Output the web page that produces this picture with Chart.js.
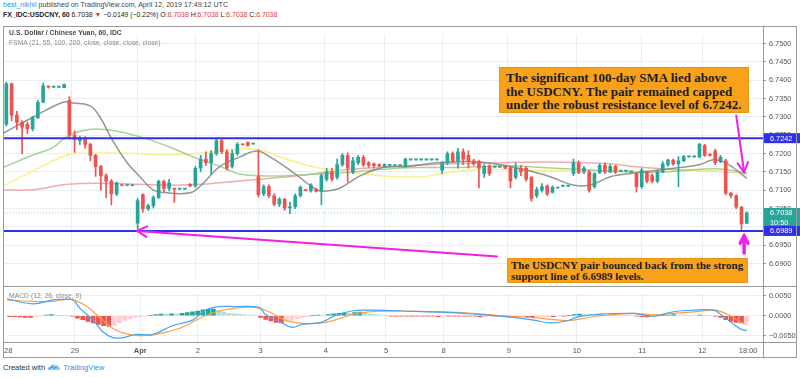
<!DOCTYPE html>
<html>
<head>
<meta charset="utf-8">
<script src="https://cdn.jsdelivr.net/npm/chart.js@4.4.1/dist/chart.umd.min.js"></script>
<style>
  html, body { margin: 0; padding: 0; background: #fff; }
  #wrap { position: relative; width: 800px; height: 378px; overflow: hidden; font-family: "Liberation Sans", Arial, sans-serif; }
  .abs { position: absolute; }
  .line { position: absolute; background: #9a9a9a; }
  #hdr1 { left: 3px; top: 1px; font-size: 7.1px; color: #444; white-space: nowrap; }
  #hdr2 { left: 3px; top: 11px; font-size: 6.9px; color: #222; white-space: nowrap; font-weight: bold; }
  #hdr2 .r { color: #e53935; }
  .leg { left: 9px; font-size: 6.9px; white-space: nowrap; }
  .note { background: #f8a21c; border: 1px solid #ec9414; color: #1c1c1c; font-family: "Liberation Serif", "Times New Roman", serif; font-weight: bold; white-space: nowrap; box-sizing: border-box; }
  #c1 { left: 0; top: 27px; }
  #c2 { left: 0; top: 287px; }
</style>
</head>
<body>
<div id="wrap">
  <div id="hdr1" class="abs"><span style="color:#2196f3">best_nikhil</span> published on TradingView.com, April 12, 2019 17:49:12 UTC</div>
  <div id="hdr2" class="abs">FX_IDC:USDCNY, 60 <span style="font-weight:normal">6.7038 <span class="r">&#9660;</span> &minus;0.0149 (&minus;0.22%) O:<span class="r">6.7038</span> H:<span class="r">6.7038</span> L:<span class="r">6.7038</span> C:<span class="r">6.7038</span></span></div>

  <canvas id="c1" class="abs" width="800" height="259"></canvas>
  <canvas id="c2" class="abs" width="800" height="71"></canvas>

  <div class="line" style="left:3px;top:26px;width:794px;height:1px"></div>
  <div class="line" style="left:3px;top:26px;width:1px;height:332px"></div>
  <div class="line" style="left:796px;top:26px;width:1px;height:332px"></div>
  <div class="line" style="left:763px;top:26px;width:1px;height:332px"></div>
  <div class="line" style="left:3px;top:286px;width:794px;height:1px"></div>
  <div class="line" style="left:3px;top:342px;width:794px;height:1px"></div>
  <div class="line" style="left:3px;top:357px;width:794px;height:1px"></div>

  <div class="abs leg" style="top:29px;color:#4a4a4a;font-weight:bold">U.S. Dollar / Chinese Yuan, 60, IDC</div>
  <div class="abs leg" style="top:39px;color:#8a8a8a;font-size:6.75px">FSMA (21, 55, 100, 200, close, close, close, close)</div>
  <div class="abs leg" style="top:292px;color:#8a8a8a;font-size:6.8px">MACD (12, 26, close, 9)</div>

  <div class="abs note" style="left:499px;top:67px;width:250px;height:46px;font-size:13px;line-height:13.5px;padding:3px 0 0 6px">The significant 100-day SMA lied above<br>the USDCNY. The pair remained capped<br>under the robust resistance level of 6.7242.</div>
  <div class="abs note" style="left:507px;top:258px;width:241px;height:25px;font-size:11px;line-height:10.5px;padding:1px 0 0 3px">The USDCNY pair bounced back from the strong<br>support line of 6.6989 levels.</div>

  <div class="abs" style="left:3px;top:363px;font-size:7.5px;color:#333;white-space:nowrap">Created with
    <svg width="14" height="8" viewBox="0 0 14 8" style="vertical-align:-1px"><path d="M2 7 Q0 7 0.5 5 Q1 3.5 3 4 Q3.5 1 6.5 1.5 Q9 1.5 9.5 3.5 Q12.5 3 13 5.5 Q13.5 7 11.5 7 Z" fill="#8ecbf5"/><path d="M2 6 L5 3.5 L7.5 5.5 L11 2.5" stroke="#1e88e5" stroke-width="1" fill="none"/></svg>
    <span style="color:#2196f3">TradingView</span></div>
</div>

<script>
// hourly axis: 0 = start of Mar 28 (UTC), weekend skipped
const startHour = -1;
const barStep = 2;

const opens = [
  6.7280,6.7390,6.7305,6.7285,6.7280,6.7268,6.7298,6.7340,6.7382,6.7381,
  6.7381,6.7380,6.7345,6.7250,6.7235,6.7242,6.7225,6.7195,6.7165,6.7140,
  6.7125,6.7090,6.7114,6.7113,6.7113,6.7010,6.7088,6.7049,6.7058,6.7080,
  6.7124,6.7105,6.7104,6.7103,6.7103,6.7116,6.7112,6.7160,6.7185,6.7175,
  6.7200,6.7235,6.7205,6.7165,6.7200,6.7225,6.7230,6.7226,6.7137,6.7090,
  6.7110,6.7085,6.7062,6.7075,6.7052,6.7055,6.7085,6.7100,6.7098,6.7103,
  6.7097,6.7130,6.7150,6.7135,6.7170,6.7195,6.7150,6.7175,6.7190,6.7175,
  6.7172,6.7170,6.7165,6.7168,6.7167,6.7167,6.7165,6.7183,6.7183,6.7183,
  6.7183,6.7183,6.7183,6.7155,6.7175,6.7200,6.7180,6.7205,6.7195,6.7180,
  6.7178,6.7145,6.7165,6.7163,6.7163,6.7165,6.7162,6.7135,6.7160,6.7160,
  6.7135,6.7085,6.7100,6.7112,6.7095,6.7106,6.7111,6.7111,6.7145,6.7175,
  6.7150,6.7150,6.7110,6.7148,6.7168,6.7150,6.7165,6.7152,6.7152,6.7150,
  6.7145,6.7110,6.7150,6.7140,6.7125,6.7150,6.7170,6.7182,6.7172,6.7180,
  6.7191,6.7191,6.7191,6.7222,6.7196,6.7207,6.7178,6.7180,6.7092,6.7085,
  6.7054,6.7010
];
const highs = [
  6.7395,6.7392,6.7315,6.7290,6.7285,6.7302,6.7345,6.7392,6.7385,6.7382,
  6.7382,6.7390,6.7355,6.7262,6.7248,6.7246,6.7228,6.7198,6.7168,6.7145,
  6.7130,6.7122,6.7115,6.7114,6.7114,6.7078,6.7090,6.7062,6.7085,6.7128,
  6.7128,6.7130,6.7105,6.7104,6.7104,6.7118,6.7165,6.7195,6.7205,6.7208,
  6.7242,6.7240,6.7210,6.7210,6.7230,6.7226,6.7232,6.7227,6.7210,6.7115,
  6.7115,6.7090,6.7080,6.7078,6.7068,6.7090,6.7112,6.7101,6.7118,6.7105,
  6.7145,6.7160,6.7160,6.7185,6.7200,6.7202,6.7190,6.7195,6.7195,6.7178,
  6.7175,6.7172,6.7172,6.7169,6.7168,6.7168,6.7188,6.7184,6.7184,6.7184,
  6.7184,6.7184,6.7184,6.7178,6.7205,6.7205,6.7214,6.7213,6.7208,6.7185,
  6.7182,6.7170,6.7170,6.7164,6.7164,6.7166,6.7165,6.7175,6.7168,6.7165,
  6.7138,6.7108,6.7118,6.7115,6.7112,6.7107,6.7112,6.7112,6.7185,6.7180,
  6.7165,6.7155,6.7148,6.7172,6.7175,6.7170,6.7168,6.7153,6.7153,6.7151,
  6.7148,6.7160,6.7152,6.7145,6.7155,6.7178,6.7185,6.7185,6.7192,6.7195,
  6.7192,6.7192,6.7228,6.7225,6.7200,6.7212,6.7195,6.7185,6.7095,6.7088,
  6.7056,6.7042
];
const lows = [
  6.7275,6.7290,6.7265,6.7200,6.7255,6.7262,6.7295,6.7338,6.7378,6.7380,
  6.7380,6.7379,6.7240,6.7203,6.7225,6.7215,6.7180,6.7138,6.7100,6.7080,
  6.7060,6.7085,6.7112,6.7112,6.7112,6.6989,6.7040,6.7045,6.7052,6.7078,
  6.7095,6.7098,6.7067,6.7102,6.7102,6.7110,6.7108,6.7150,6.7168,6.7144,
  6.7195,6.7200,6.7155,6.7160,6.7195,6.7223,6.7220,6.7225,6.7082,6.7085,
  6.7080,6.7058,6.7055,6.7045,6.7036,6.7050,6.7082,6.7098,6.7095,6.7095,
  6.7060,6.7125,6.7125,6.7130,6.7165,6.7123,6.7145,6.7170,6.7165,6.7162,
  6.7160,6.7164,6.7163,6.7167,6.7166,6.7166,6.7163,6.7182,6.7182,6.7182,
  6.7182,6.7182,6.7182,6.7145,6.7170,6.7175,6.7160,6.7170,6.7160,6.7168,
  6.7106,6.7135,6.7140,6.7162,6.7162,6.7158,6.7106,6.7130,6.7140,6.7125,
  6.7070,6.7080,6.7095,6.7085,6.7092,6.7105,6.7110,6.7110,6.7140,6.7145,
  6.7145,6.7095,6.7105,6.7145,6.7145,6.7148,6.7145,6.7151,6.7151,6.7149,
  6.7095,6.7105,6.7120,6.7120,6.7120,6.7148,6.7165,6.7168,6.7110,6.7178,
  6.7190,6.7190,6.7188,6.7192,6.7193,6.7170,6.7175,6.7088,6.7080,6.7050,
  6.6989,6.7008
];
const closes = [
  6.7390,6.7305,6.7285,6.7272,6.7268,6.7298,6.7340,6.7385,6.7381,6.7381,
  6.7381,6.7388,6.7250,6.7238,6.7242,6.7225,6.7195,6.7165,6.7140,6.7125,
  6.7090,6.7120,6.7113,6.7113,6.7113,6.7072,6.7049,6.7058,6.7080,6.7124,
  6.7105,6.7120,6.7103,6.7103,6.7103,6.7112,6.7160,6.7185,6.7175,6.7200,
  6.7235,6.7205,6.7160,6.7200,6.7225,6.7224,6.7222,6.7226,6.7088,6.7110,
  6.7085,6.7062,6.7075,6.7052,6.7055,6.7085,6.7108,6.7099,6.7115,6.7097,
  6.7140,6.7150,6.7130,6.7170,6.7195,6.7160,6.7180,6.7190,6.7170,6.7168,
  6.7167,6.7166,6.7170,6.7168,6.7167,6.7167,6.7185,6.7183,6.7183,6.7183,
  6.7183,6.7183,6.7183,6.7175,6.7200,6.7180,6.7205,6.7185,6.7178,6.7172,
  6.7160,6.7165,6.7145,6.7163,6.7163,6.7160,6.7125,6.7160,6.7150,6.7130,
  6.7078,6.7102,6.7110,6.7090,6.7108,6.7106,6.7111,6.7111,6.7175,6.7148,
  6.7160,6.7100,6.7145,6.7168,6.7150,6.7165,6.7150,6.7152,6.7152,6.7150,
  6.7110,6.7155,6.7125,6.7125,6.7150,6.7172,6.7182,6.7172,6.7180,6.7192,
  6.7191,6.7191,6.7225,6.7195,6.7195,6.7175,6.7190,6.7092,6.7085,6.7054,
  6.7008,6.7038
];

// moving averages, [hour, value]
const sma21 = [[-2.3,6.7255],[9.1,6.7299],[20.6,6.7340],[24.4,6.7338],[30.9,6.7330],[34.7,6.7299],[39.6,6.7234],[45,6.7175],[49.9,6.7137],[54.9,6.7101],[60.2,6.7093],[69,6.7093],[72.8,6.7111],[80.4,6.7165],[88,6.7191],[94.5,6.7207],[99.4,6.7191],[108.2,6.7149],[117.3,6.7101],[121.1,6.7098],[126.1,6.7106],[133.7,6.7139],[142.5,6.7162],[151.6,6.7165],[163,6.7175],[170.7,6.7178],[178.3,6.7178],[187,6.7170],[195.8,6.7157],[206.1,6.7137],[214.9,6.7114],[221.3,6.7114],[229,6.7137],[232.8,6.7142],[244.2,6.7152],[255.6,6.7162],[263.2,6.7170],[268.2,6.7183],[272,6.7178],[275.8,6.7162],[281.1,6.7132]];
const sma55 = [[-2.3,6.7162],[9.1,6.7196],[16.8,6.7217],[22.1,6.7247],[29.7,6.7265],[37.3,6.7265],[45,6.7255],[52.6,6.7240],[62.5,6.7214],[70.1,6.7191],[80.4,6.7165],[88,6.7144],[98.3,6.7139],[104.4,6.7139],[117.3,6.7144],[129.9,6.7149],[142.5,6.7157],[155.4,6.7162],[168,6.7162],[180.6,6.7165],[190.9,6.7167],[203.4,6.7162],[216.4,6.7157],[229,6.7152],[237.7,6.7149],[250.7,6.7150],[263.2,6.7157],[270.9,6.7158],[281.1,6.7147]];
const sma100 = [[-2.3,6.7111],[9.1,6.7152],[22.1,6.7196],[28.2,6.7201],[47.2,6.7201],[60.2,6.7196],[72.8,6.7201],[85.3,6.7211],[95.2,6.7211],[104.4,6.7188],[117.3,6.7162],[129.9,6.7149],[142.5,6.7139],[157.7,6.7137],[168,6.7149],[180.6,6.7157],[195.8,6.7155],[216.4,6.7152],[229,6.7152],[250.7,6.7152],[263.2,6.7154],[281.1,6.7149]];
const sma200 = [[-2.3,6.7101],[9.1,6.7101],[22.1,6.7116],[34.7,6.7119],[60.2,6.7114],[72.8,6.7116],[91.8,6.7128],[110.9,6.7140],[129.9,6.7157],[149,6.7165],[168,6.7172],[187,6.7175],[206.1,6.7177],[229,6.7172],[237.7,6.7165],[250.7,6.7157],[263.2,6.7154],[281.1,6.7147]];

// MACD panel
const macdLine = [[-2.3,0.0043],[8,0.0030],[15.6,0.0040],[19.4,0.0041],[23.2,0.0040],[25.9,0.0019],[30.9,-0.0011],[34.7,-0.0040],[38.5,-0.0055],[42.3,-0.0055],[47.2,-0.0047],[53.7,-0.0047],[61.3,-0.0025],[69,-0.0011],[73.9,0.0014],[79.2,0.0023],[85.3,0.0023],[94.5,0.0021],[96.8,0.0004],[102.1,-0.0014],[107,-0.0029],[110.9,-0.0022],[118.5,-0.0016],[123.4,0.0000],[129.9,0.0012],[136.4,0.0014],[149,0.0012],[164.2,0.0009],[174.5,0.0005],[187,-0.0001],[199.6,-0.0011],[206.1,-0.0018],[212.6,-0.0012],[216.4,-0.0003],[225.1,0.0004],[237.7,0.0006],[245.3,-0.0001],[253,0.0010],[260.6,0.0014],[268.2,0.0014],[270.9,0.0004],[274.7,-0.0015],[278.5,-0.0033],[281.1,-0.0037]];
const signalLine = [[-2.3,0.0040],[8,0.0036],[15.6,0.0036],[22.1,0.0041],[28.2,0.0025],[34.7,-0.0011],[39.6,-0.0036],[45,-0.0047],[49.9,-0.0050],[56.4,-0.0045],[65.1,-0.0029],[72.8,-0.0003],[79.2,0.0012],[85.3,0.0019],[93,0.0021],[98.3,0.0010],[104.4,-0.0011],[110.9,-0.0019],[118.5,-0.0018],[123.4,-0.0011],[129.9,0.0003],[136.4,0.0010],[149,0.0012],[164.2,0.0010],[174.5,0.0007],[187,0.0000],[199.6,-0.0005],[206.1,-0.0009],[212.6,-0.0012],[216.4,-0.0009],[225.1,0.0000],[237.7,0.0006],[245.3,0.0002],[253,0.0006],[260.6,0.0010],[268.2,0.0014],[270.9,0.0011],[274.7,0.0000],[278.5,-0.0015],[281.1,-0.0022]];
const macdHist = [
  -0.0002,-0.0002,-0.0003,-0.0004,-0.0004,-0.0002,-0.0001,0.0002,0.0003,0.0002,
  0.0001,0.0001,-0.0001,-0.0006,-0.0010,-0.0014,-0.0018,-0.0022,-0.0025,-0.0026,
  -0.0024,-0.0018,-0.0012,-0.0008,-0.0004,-0.0003,-0.0001,0.0001,0.0003,0.0004,
  0.0004,0.0005,0.0005,0.0006,0.0008,0.0010,0.0012,0.0015,0.0016,0.0017,
  0.0013,0.0009,0.0006,0.0005,0.0004,0.0003,0.0002,0.0001,-0.0004,-0.0009,
  -0.0013,-0.0017,-0.0018,-0.0014,-0.0011,-0.0007,-0.0004,-0.0002,0.0001,0.0002,
  0.0002,0.0003,0.0005,0.0006,0.0007,0.0007,0.0008,0.0009,0.0006,0.0004,
  0.0003,0.0002,0.0001,-0.0001,-0.0001,-0.0001,-0.0001,-0.0001,-0.0001,-0.0001,
  -0.0001,-0.0001,-0.0002,-0.0001,-0.0001,-0.0001,-0.0001,-0.0001,-0.0001,-0.0001,
  -0.0003,-0.0002,-0.0001,-0.0001,-0.0001,-0.0001,-0.0002,-0.0003,-0.0002,-0.0003,
  -0.0005,-0.0004,-0.0003,-0.0002,-0.0002,-0.0001,-0.0001,0.0001,0.0003,0.0004,
  0.0003,0.0002,0.0002,0.0003,0.0002,0.0002,0.0001,0.0001,0.0001,0.0001,
  -0.0001,-0.0002,-0.0003,-0.0002,-0.0001,0.0001,0.0002,0.0003,0.0002,0.0002,
  0.0001,0.0001,0.0002,0.0001,0.0000,-0.0001,-0.0004,-0.0010,-0.0014,-0.0017,
  -0.0018,-0.0016
];

// levels and axis ticks
const resistance = 6.7242;
const support = 6.6989;
const lastPrice = 6.7038;
const priceTicks = [6.6900,6.6950,6.7000,6.7050,6.7100,6.7150,6.7200,6.7250,6.7300,6.7350,6.7400,6.7450,6.7500];
const macdTicks = [-0.005, 0, 0.005];
const tickHours = [-1.5, 24, 49, 71, 95, 120, 143, 165, 190, 216, 241, 264, 281.5];
const tickLabels = ['28','29','Apr','2','3','4','5','8','9','10','11','12','18:00'];

// arrows drawn on the price panel: [fromHour, fromPrice, toHour, toPrice, width]
const arrows = [
  [185.9, 6.6919, 48.8, 6.6989, 2],
  [277.0, 6.7304, 280.0, 6.7149, 2],
  [280.0, 6.6929, 280.0, 6.6975, 3.5]
];

const X_MIN = -1.9, X_MAX = 287.2;
const UP = '#26a69a', DOWN = '#ef5350', BLUE = '#2f2ff0', MAGENTA = '#f01ee8';
const GRID = '#e8eef2';
const FONT = 'Liberation Sans';

const xOf = i => startHour + i * barStep;
const candleColors = opens.map((o, i) => closes[i] >= o ? UP : DOWN);
const pts = arr => arr.map(p => ({ x: p[0], y: p[1] }));
const hline = v => [{ x: X_MIN, y: v }, { x: X_MAX, y: v }];

const xScale = (showLabels) => ({
  type: 'linear', min: X_MIN, max: X_MAX, offset: false,
  afterBuildTicks: s => { s.ticks = tickHours.map(v => ({ value: v })); },
  afterFit: s => { s.height = showLabels ? 16 : 0; },
  grid: { offset: false, drawTicks: false, color: c => (c.index === 0 || c.index === tickLabels.length - 1) ? 'rgba(0,0,0,0)' : GRID },
  border: { display: false },
  ticks: {
    display: showLabels, autoSkip: false, maxRotation: 0, padding: 4, color: '#555',
    font: c => ({ family: FONT, size: 7.5, weight: c.index === 2 ? 'bold' : 'normal' }),
    callback: (v, i) => tickLabels[i]
  }
});

function arrowHead(ctx, x1, y1, x2, y2, len) {
  const a = Math.atan2(y2 - y1, x2 - x1);
  ctx.beginPath();
  ctx.moveTo(x2 - len * Math.cos(a - 0.5), y2 - len * Math.sin(a - 0.5));
  ctx.lineTo(x2, y2);
  ctx.lineTo(x2 - len * Math.cos(a + 0.5), y2 - len * Math.sin(a + 0.5));
  ctx.stroke();
}

const priceOverlay = {
  id: 'priceOverlay',
  afterDraw(chart) {
    const ctx = chart.ctx, xs = chart.scales.x, ys = chart.scales.y;
    ctx.save();
    ctx.strokeStyle = MAGENTA;
    ctx.lineCap = 'round';
    arrows.forEach(a => {
      const x1 = xs.getPixelForValue(a[0]), y1 = ys.getPixelForValue(a[1]);
      const x2 = xs.getPixelForValue(a[2]), y2 = ys.getPixelForValue(a[3]);
      ctx.lineWidth = a[4];
      ctx.beginPath(); ctx.moveTo(x1, y1); ctx.lineTo(x2, y2); ctx.stroke();
      arrowHead(ctx, x1, y1, x2, y2, a[4] > 2 ? 8 : 11);
    });
    // price labels on the right axis
    const left = chart.chartArea.right + 1;
    const tags = [
      [ys.getPixelForValue(resistance), resistance.toFixed(4), BLUE],
      [ys.getPixelForValue(lastPrice), lastPrice.toFixed(4), UP],
      [ys.getPixelForValue(lastPrice) + 10, '10:50', UP],
      [ys.getPixelForValue(support), support.toFixed(4), BLUE]
    ];
    ctx.font = '7.3px ' + FONT;
    ctx.textBaseline = 'middle';
    tags.forEach(t => {
      ctx.fillStyle = t[2];
      ctx.fillRect(left, t[0] - 5, 800 - left, 10);
      ctx.fillStyle = '#fff';
      ctx.fillText(t[1], left + 6, t[0] + 0.5);
    });
    ctx.restore();
  }
};

new Chart(document.getElementById('c1'), {
  type: 'bar',
  data: {
    datasets: [
      { type: 'line', data: hline(resistance), borderColor: BLUE, borderWidth: 2, pointRadius: 0, order: 1 },
      { type: 'line', data: hline(support), borderColor: BLUE, borderWidth: 2, pointRadius: 0, order: 1 },
      { data: opens.map((o, i) => ({ x: xOf(i), y: [o, closes[i]] })), backgroundColor: candleColors,
        barThickness: 3, minBarLength: 1, grouped: false, order: 2 },
      { data: lows.map((l, i) => ({ x: xOf(i), y: [l, highs[i]] })), backgroundColor: candleColors,
        barThickness: 1, grouped: false, order: 3 },
      { type: 'line', data: pts(sma21), borderColor: 'rgba(130,130,130,0.85)', borderWidth: 1.5, pointRadius: 0, tension: 0.4, order: 5 },
      { type: 'line', data: pts(sma55), borderColor: 'rgba(150,205,140,0.85)', borderWidth: 1.5, pointRadius: 0, tension: 0.4, order: 5 },
      { type: 'line', data: pts(sma100), borderColor: 'rgba(250,240,130,0.95)', borderWidth: 1.5, pointRadius: 0, tension: 0.4, order: 5 },
      { type: 'line', data: pts(sma200), borderColor: 'rgba(240,150,150,0.8)', borderWidth: 1.5, pointRadius: 0, tension: 0.4, order: 5 },
      { type: 'line', data: hline(lastPrice), borderColor: 'rgba(38,166,154,0.5)', borderWidth: 1, borderDash: [1, 2], pointRadius: 0, order: 6 }
    ]
  },
  options: {
    responsive: false, animation: false,
    layout: { padding: { left: 4, right: 0, top: 0, bottom: 0 } },
    plugins: { legend: { display: false }, tooltip: { enabled: false } },
    scales: {
      x: xScale(false),
      y: {
        position: 'right', min: 6.6859, max: 6.7525,
        afterBuildTicks: s => { s.ticks = priceTicks.map(v => ({ value: v })); },
        afterFit: s => { s.width = 37; },
        grid: { color: GRID, tickLength: 3, tickColor: '#999' },
        border: { display: false },
        ticks: { color: '#555', padding: 3, font: { family: FONT, size: 7.3 }, callback: v => v.toFixed(4) }
      }
    }
  },
  plugins: [priceOverlay]
});

const histColors = macdHist.map((v, i) => {
  const prev = i ? macdHist[i - 1] : v;
  if (v >= 0) return v > prev ? UP : '#b2dfdb';
  return v > prev ? '#ffcdd2' : DOWN;
});

new Chart(document.getElementById('c2'), {
  type: 'bar',
  data: {
    datasets: [
      { type: 'line', data: pts(macdLine), borderColor: '#42a5f5', borderWidth: 1.2, pointRadius: 0, tension: 0.4, order: 1 },
      { type: 'line', data: pts(signalLine), borderColor: '#ff9f43', borderWidth: 1.2, pointRadius: 0, tension: 0.4, order: 2 },
      { data: macdHist.map((v, i) => ({ x: xOf(i), y: v })), backgroundColor: histColors, barThickness: 4, grouped: false, order: 3 }
    ]
  },
  options: {
    responsive: false, animation: false,
    layout: { padding: { left: 4, right: 0, top: 0, bottom: 0 } },
    plugins: { legend: { display: false }, tooltip: { enabled: false } },
    scales: {
      x: xScale(true),
      y: {
        position: 'right', min: -0.00659, max: 0.00537,
        afterBuildTicks: s => { s.ticks = macdTicks.map(v => ({ value: v })); },
        afterFit: s => { s.width = 37; },
        grid: { color: GRID, tickLength: 3, tickColor: '#999' },
        border: { display: false },
        ticks: { color: '#555', padding: 3, font: { family: FONT, size: 7.3 },
          callback: v => (v < 0 ? '\u2212' : '') + Math.abs(v).toFixed(4) }
      }
    }
  }
});
</script>
</body>
</html>
